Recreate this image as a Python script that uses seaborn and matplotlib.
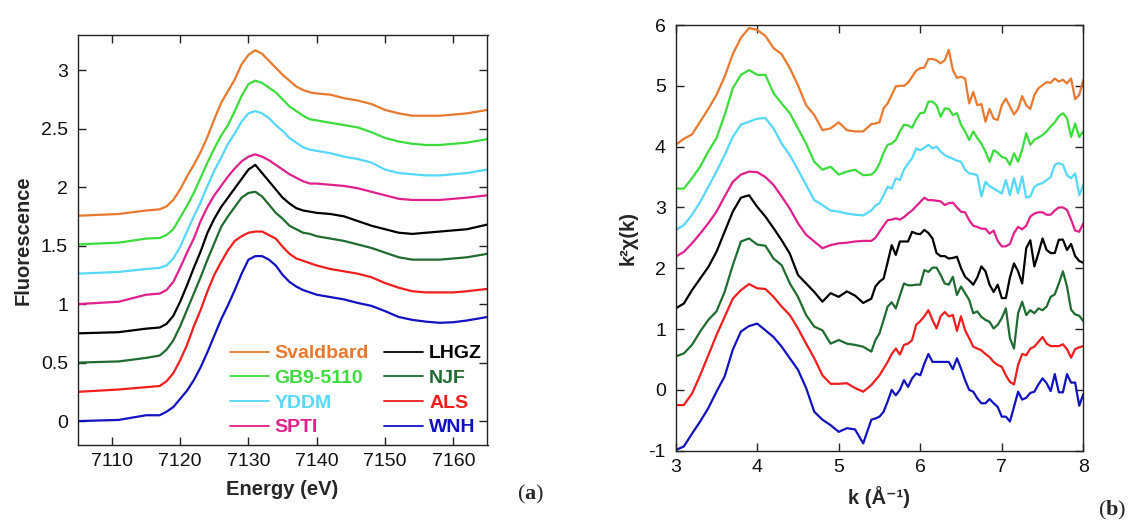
import matplotlib
matplotlib.use("Agg")
import matplotlib.pyplot as plt
import numpy as np
import pandas as pd
import seaborn as sns

# ---------------- data ----------------
samples = ["Svaldbard", "GB9-5110", "YDDM", "SPTI", "LHGZ", "NJF", "ALS", "WNH"]
colors = ["#E8792F", "#3CDC3C", "#55D8F5", "#E0208C", "#000000", "#1F6B30", "#F01E1E", "#1212C0"]

energy = [7105, 7111, 7115, 7117, 7118, 7119, 7120, 7121, 7122, 7123, 7124, 7125, 7126,
          7127, 7128, 7129, 7130, 7131, 7132, 7133, 7134, 7135, 7136, 7137, 7138, 7139,
          7140, 7142, 7144, 7146, 7148, 7150, 7152, 7154, 7156, 7158, 7160, 7162, 7165]

xanes_svaldbard = [1.755, 1.77, 1.80, 1.81, 1.835, 1.89, 1.98, 2.09, 2.19, 2.30, 2.43, 2.58, 2.72,
                   2.82, 2.92, 3.05, 3.13, 3.17, 3.14, 3.08, 3.02, 2.96, 2.91, 2.86, 2.83, 2.81,
                   2.80, 2.79, 2.76, 2.74, 2.71, 2.66, 2.63, 2.61, 2.61, 2.61, 2.62, 2.63, 2.66]
xanes_gb9 = [1.51, 1.525, 1.56, 1.565, 1.59, 1.64, 1.74, 1.84, 1.95, 2.08, 2.21, 2.33, 2.44,
             2.53, 2.65, 2.78, 2.88, 2.91, 2.89, 2.85, 2.81, 2.75, 2.69, 2.65, 2.61, 2.58,
             2.57, 2.55, 2.53, 2.51, 2.47, 2.42, 2.39, 2.37, 2.36, 2.36, 2.37, 2.38, 2.41]
xanes_yddm = [1.26, 1.275, 1.30, 1.31, 1.33, 1.39, 1.49, 1.62, 1.75, 1.87, 2.01, 2.14, 2.25,
              2.37, 2.46, 2.56, 2.63, 2.65, 2.63, 2.59, 2.53, 2.48, 2.42, 2.38, 2.34, 2.32,
              2.31, 2.29, 2.26, 2.24, 2.21, 2.15, 2.12, 2.11, 2.10, 2.10, 2.11, 2.12, 2.15]
xanes_spti = [1.00, 1.02, 1.08, 1.09, 1.12, 1.19, 1.31, 1.44, 1.56, 1.71, 1.83, 1.93, 2.01,
              2.09, 2.16, 2.22, 2.26, 2.28, 2.26, 2.23, 2.19, 2.15, 2.11, 2.08, 2.05, 2.03,
              2.03, 2.02, 2.01, 1.99, 1.96, 1.93, 1.90, 1.89, 1.89, 1.89, 1.90, 1.91, 1.93]
xanes_lhgz = [0.75, 0.76, 0.79, 0.80, 0.83, 0.90, 1.02, 1.16, 1.31, 1.45, 1.61, 1.73, 1.83,
              1.91, 1.99, 2.07, 2.15, 2.19, 2.12, 2.05, 1.98, 1.91, 1.86, 1.82, 1.80, 1.79,
              1.78, 1.77, 1.75, 1.71, 1.67, 1.64, 1.61, 1.60, 1.61, 1.62, 1.63, 1.64, 1.68]
xanes_njf = [0.50, 0.51, 0.54, 0.56, 0.61, 0.69, 0.81, 0.95, 1.09, 1.23, 1.38, 1.52, 1.66,
             1.75, 1.83, 1.91, 1.95, 1.96, 1.92, 1.85, 1.78, 1.73, 1.67, 1.64, 1.61, 1.60,
             1.58, 1.56, 1.54, 1.51, 1.48, 1.44, 1.40, 1.38, 1.38, 1.38, 1.39, 1.40, 1.43]
xanes_als = [0.25, 0.27, 0.29, 0.30, 0.34, 0.41, 0.52, 0.65, 0.81, 0.95, 1.11, 1.25, 1.36,
             1.46, 1.54, 1.58, 1.61, 1.62, 1.62, 1.59, 1.56, 1.49, 1.43, 1.39, 1.37, 1.35,
             1.33, 1.30, 1.28, 1.26, 1.23, 1.18, 1.14, 1.11, 1.10, 1.10, 1.10, 1.11, 1.13]
xanes_wnh = [0.00, 0.01, 0.05, 0.05, 0.08, 0.12, 0.19, 0.26, 0.35, 0.46, 0.59, 0.73, 0.87,
             0.99, 1.12, 1.26, 1.38, 1.41, 1.41, 1.38, 1.33, 1.25, 1.19, 1.15, 1.12, 1.10,
             1.08, 1.06, 1.04, 1.01, 0.985, 0.94, 0.89, 0.865, 0.85, 0.84, 0.845, 0.86, 0.89]

k_values = [3.0, 3.1, 3.2, 3.3, 3.4, 3.5, 3.6, 3.7, 3.8, 3.9, 4.0, 4.1, 4.2, 4.3, 4.4, 4.5,
            4.6, 4.7, 4.8, 4.9, 5.0, 5.1, 5.2, 5.3, 5.4,
            5.45, 5.5, 5.55, 5.6, 5.65, 5.7, 5.75, 5.8, 5.85, 5.9, 5.95, 6.0, 6.05, 6.1,
            6.15, 6.2, 6.25, 6.3, 6.35, 6.4, 6.45, 6.5, 6.55, 6.6, 6.65, 6.7, 6.75, 6.8,
            6.85, 6.9, 6.95, 7.0, 7.05, 7.1, 7.15, 7.2, 7.25, 7.3, 7.35, 7.4, 7.45, 7.5,
            7.55, 7.6, 7.65, 7.7, 7.75, 7.8, 7.85, 7.9, 7.95, 8.0]

exafs_svaldbard = [4.03, 4.13, 4.20, 4.41, 4.62, 4.85, 5.15, 5.52, 5.79, 5.95, 5.92, 5.82, 5.62,
                   5.52, 5.29, 5.01, 4.68, 4.52, 4.27, 4.30, 4.40, 4.27, 4.25, 4.25, 4.37,
                   4.38, 4.40, 4.63, 4.71, 4.85, 4.99, 5.00, 5.00, 5.05, 5.15, 5.25, 5.29, 5.30,
                   5.44, 5.44, 5.42, 5.37, 5.42, 5.59, 5.26, 5.13, 5.15, 5.12, 4.71, 4.90, 4.68,
                   4.70, 4.41, 4.62, 4.46, 4.44, 4.68, 4.79, 4.66, 4.53, 4.62, 4.83, 4.68, 4.62,
                   4.85, 4.96, 5.01, 5.06, 5.05, 5.12, 5.07, 5.10, 5.04, 5.12, 4.78, 4.85, 5.10]
exafs_gb9 = [3.31, 3.31, 3.48, 3.67, 3.92, 4.14, 4.52, 4.96, 5.18, 5.26, 5.18, 5.18, 4.88,
             4.71, 4.55, 4.30, 4.05, 3.75, 3.62, 3.67, 3.54, 3.59, 3.62, 3.53, 3.54,
             3.60, 3.72, 3.90, 4.03, 4.05, 4.11, 4.25, 4.36, 4.35, 4.31, 4.45, 4.55, 4.56,
             4.74, 4.74, 4.68, 4.49, 4.63, 4.62, 4.52, 4.55, 4.36, 4.25, 4.11, 4.25, 4.14,
             4.05, 3.92, 3.75, 3.94, 3.90, 3.83, 3.81, 3.70, 3.89, 3.75, 3.95, 4.22, 4.03,
             4.11, 4.15, 4.19, 4.25, 4.33, 4.40, 4.50, 4.55, 4.47, 4.16, 4.38, 4.16, 4.25]
exafs_yddm = [2.63, 2.71, 2.88, 3.09, 3.34, 3.59, 3.86, 4.16, 4.36, 4.41, 4.46, 4.47, 4.30,
              4.05, 3.86, 3.62, 3.37, 3.12, 3.04, 2.95, 2.93, 2.90, 2.88, 2.87, 2.95,
              3.03, 3.07, 3.20, 3.34, 3.31, 3.48, 3.45, 3.62, 3.72, 3.81, 3.97, 3.94, 3.98,
              4.03, 3.97, 4.00, 3.92, 3.86, 3.83, 3.80, 3.77, 3.75, 3.62, 3.56, 3.55, 3.53,
              3.18, 3.42, 3.35, 3.31, 3.27, 3.23, 3.45, 3.20, 3.48, 3.23, 3.51, 3.16, 3.18,
              3.34, 3.38, 3.40, 3.45, 3.50, 3.70, 3.73, 3.70, 3.53, 3.48, 3.56, 3.20, 3.37]
exafs_spti = [2.19, 2.27, 2.41, 2.57, 2.74, 2.93, 3.18, 3.42, 3.54, 3.59, 3.58, 3.50, 3.37,
              3.18, 2.98, 2.74, 2.55, 2.44, 2.33, 2.38, 2.41, 2.42, 2.44, 2.45, 2.45,
              2.50, 2.60, 2.70, 2.79, 2.80, 2.82, 2.80, 2.84, 2.90, 2.95, 3.02, 3.09, 3.16,
              3.12, 3.12, 3.11, 3.10, 3.04, 3.07, 3.08, 3.00, 2.93, 2.92, 2.79, 2.70, 2.68,
              2.65, 2.65, 2.57, 2.62, 2.45, 2.36, 2.36, 2.40, 2.58, 2.68, 2.64, 2.70, 2.85,
              2.90, 2.92, 2.92, 2.88, 2.88, 2.95, 3.00, 3.00, 2.96, 2.80, 2.62, 2.60, 2.74]
exafs_lhgz = [1.34, 1.42, 1.64, 1.83, 2.02, 2.27, 2.60, 2.93, 3.16, 3.20, 3.01, 2.85, 2.66,
              2.46, 2.24, 1.89, 1.75, 1.61, 1.45, 1.59, 1.53, 1.62, 1.55, 1.43, 1.50,
              1.70, 1.78, 1.83, 2.10, 2.38, 2.22, 2.44, 2.44, 2.44, 2.60, 2.57, 2.56, 2.63,
              2.58, 2.49, 2.25, 2.20, 2.20, 2.16, 2.17, 2.19, 2.00, 1.86, 1.80, 1.73, 1.85,
              2.03, 1.95, 1.73, 1.61, 1.73, 1.51, 1.51, 1.85, 2.08, 1.95, 1.75, 2.33, 2.46,
              2.03, 2.25, 2.49, 2.30, 2.25, 2.25, 2.47, 2.47, 2.30, 2.40, 2.20, 2.12, 2.09]
exafs_njf = [0.55, 0.60, 0.74, 0.96, 1.15, 1.29, 1.61, 2.05, 2.44, 2.49, 2.39, 2.37, 2.16,
             2.05, 1.75, 1.53, 1.23, 1.04, 0.98, 0.76, 0.82, 0.76, 0.74, 0.71, 0.63,
             0.82, 0.93, 1.15, 1.37, 1.44, 1.34, 1.55, 1.75, 1.72, 1.72, 1.73, 1.73, 1.97,
             1.94, 2.01, 2.01, 1.89, 1.75, 1.73, 1.86, 1.56, 1.70, 1.59, 1.48, 1.26, 1.29,
             1.20, 1.15, 1.12, 1.01, 1.07, 1.18, 1.34, 0.85, 0.68, 1.26, 1.45, 1.23, 1.31,
             1.26, 1.34, 1.31, 1.37, 1.53, 1.57, 1.75, 1.95, 1.70, 1.32, 1.24, 1.22, 1.13]
exafs_als = [-0.25, -0.25, -0.06, 0.24, 0.57, 0.90, 1.20, 1.50, 1.64, 1.74, 1.67, 1.66, 1.53,
             1.37, 1.23, 1.01, 0.76, 0.52, 0.24, 0.10, 0.10, 0.11, 0.03, -0.03, 0.08,
             0.16, 0.24, 0.35, 0.46, 0.59, 0.68, 0.58, 0.74, 0.76, 0.82, 1.07, 1.13, 1.21,
             1.31, 1.15, 1.01, 1.21, 1.28, 1.21, 1.23, 0.97, 1.21, 0.98, 0.85, 0.71, 0.68,
             0.65, 0.59, 0.54, 0.46, 0.41, 0.38, 0.24, 0.13, 0.09, 0.41, 0.59, 0.57, 0.68,
             0.71, 0.79, 0.87, 0.76, 0.72, 0.72, 0.72, 0.75, 0.67, 0.53, 0.67, 0.70, 0.72]
exafs_wnh = [-0.99, -0.93, -0.72, -0.52, -0.30, -0.03, 0.22, 0.66, 0.96, 1.05, 1.09, 0.98, 0.87,
             0.71, 0.52, 0.33, 0.03, -0.36, -0.49, -0.58, -0.69, -0.63, -0.65, -0.88, -0.49,
             -0.47, -0.44, -0.36, -0.19, 0.00, -0.09, 0.00, 0.16, 0.05, 0.19, 0.27, 0.24, 0.43,
             0.59, 0.46, 0.46, 0.46, 0.46, 0.46, 0.34, 0.52, 0.35, 0.16, 0.00, -0.03, -0.14,
             -0.22, -0.22, -0.15, -0.22, -0.28, -0.44, -0.44, -0.52, -0.28, -0.03, -0.16, -0.13, -0.05,
             -0.03, 0.09, 0.19, 0.11, -0.02, 0.26, -0.04, -0.04, 0.26, 0.12, 0.12, -0.26, -0.07]

xanes_ticks = [7110, 7120, 7130, 7140, 7150, 7160]
fluor_ticks = [0, 0.5, 1, 1.5, 2, 2.5, 3]
fluor_ticklabels = ["0", "0.5", "1", "1.5", "2", "2.5", "3"]
k_ticks = [3, 4, 5, 6, 7, 8]
chi_ticks = [-1, 0, 1, 2, 3, 4, 5, 6]

# ---------------- tables ----------------
xanes_series = [xanes_svaldbard, xanes_gb9, xanes_yddm, xanes_spti,
                xanes_lhgz, xanes_njf, xanes_als, xanes_wnh]
exafs_series = [exafs_svaldbard, exafs_gb9, exafs_yddm, exafs_spti,
                exafs_lhgz, exafs_njf, exafs_als, exafs_wnh]

df_xanes = pd.concat([pd.DataFrame({"E": energy, "F": s, "sample": n})
                      for n, s in zip(samples, xanes_series)], ignore_index=True)
df_exafs = pd.concat([pd.DataFrame({"k": k_values, "chi": s, "sample": n})
                      for n, s in zip(samples, exafs_series)], ignore_index=True)
palette = dict(zip(samples, colors))

# ---------------- style ----------------
sns.set_theme(style="ticks")
plt.rcParams["font.family"] = ["Liberation Sans", "DejaVu Sans"]
plt.rcParams["axes.unicode_minus"] = False
plt.rcParams["mathtext.fontset"] = "custom"
plt.rcParams["mathtext.rm"] = "Liberation Serif"
plt.rcParams["mathtext.bf"] = "Liberation Serif:bold"

W, H = 1129, 522
fig = plt.figure(figsize=(W / 100, H / 100), dpi=100)
ax1 = fig.add_axes([77.7 / W, 1 - 444.5 / H, (487.5 - 77.7) / W, (444.5 - 35) / H])
ax2 = fig.add_axes([675.7 / W, 1 - 450.7 / H, (1083.3 - 675.7) / W, (450.7 - 25) / H])

sns.lineplot(data=df_xanes, x="E", y="F", hue="sample", palette=palette,
             hue_order=samples, estimator=None, sort=False, legend=False,
             linewidth=1.6, ax=ax1)
sns.lineplot(data=df_exafs, x="k", y="chi", hue="sample", palette=palette,
             hue_order=samples, estimator=None, sort=False, legend=False,
             linewidth=1.6, ax=ax2)

for ax in (ax1, ax2):
    for sp in ax.spines.values():
        sp.set_visible(True)
        sp.set_linewidth(1.0)
        sp.set_color("#222222")
    ax.tick_params(direction="in", top=True, right=True, length=5.5, width=1.0,
                   labelsize=14, colors="#222222", labelcolor="#111111")
    ax.tick_params(axis="y", pad=7)
    ax.tick_params(axis="x", pad=6)

ax1.set_xlim(7105, 7165)
ax1.set_ylim(-0.2, 3.3)
ax1.set_xticks(xanes_ticks)
ax1.set_yticks(fluor_ticks)
ax1.set_yticklabels(fluor_ticklabels)
ax1.set_xlabel("Energy (eV)", fontsize=14.5, fontweight="bold", labelpad=7)
ax1.set_ylabel("Fluorescence", fontsize=14.5, fontweight="bold", labelpad=6)

ax2.set_xlim(3, 8)
ax2.set_ylim(-1, 6)
ax2.set_xticks(k_ticks)
ax2.set_yticks(chi_ticks)
ax2.set_xlabel("k (Å\u207b\u00b9)", fontsize=14.5, fontweight="bold", labelpad=7)
ax2.set_ylabel("k\u00b2\u03c7(k)", fontsize=14.5, fontweight="bold", labelpad=8)

leg = ax1.legend(ax1.lines, samples, ncol=2, loc="lower right",
                 bbox_to_anchor=(0.987, 0.02), frameon=False,
                 prop={"weight": "bold", "size": 14}, handlelength=2.0,
                 handletextpad=0.3, columnspacing=0.8, labelspacing=0.36,
                 borderpad=0.0, borderaxespad=0.0)
for txt, c in zip(leg.get_texts(), colors):
    txt.set_color(c)
for h in leg.legend_handles:
    h.set_linewidth(1.3)

fig.text(531 / W, 1 - 494 / H, r"($\mathbf{a}$)", fontsize=16, ha="center", va="center",
         family="Liberation Serif")
fig.text(1112 / W, 1 - 510 / H, r"($\mathbf{b}$)", fontsize=16, ha="center", va="center",
         family="Liberation Serif")

fig.savefig("out.png", dpi=100)
